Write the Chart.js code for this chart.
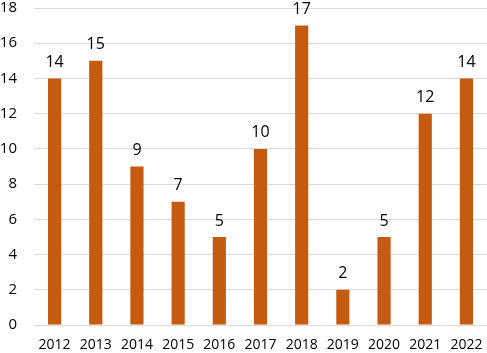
<!DOCTYPE html>
<html>
<head>
<meta charset="utf-8">
<script src="https://cdn.jsdelivr.net/npm/chart.js@4/dist/chart.umd.min.js"></script>
<style>
    html, body { margin: 0; padding: 0; background: #fff; }
    #wrap { width: 487px; height: 353px; position: relative; }
</style>
</head>
<body>
<div id="wrap"><canvas id="chart"></canvas></div>
<script>
const years = ['2012', '2013', '2014', '2015', '2016', '2017', '2018', '2019', '2020', '2021', '2022'];
const counts = [14, 15, 9, 7, 5, 10, 17, 2, 5, 12, 14];
const yTicks = [0, 2, 4, 6, 8, 10, 12, 14, 16, 18];

const fontFamily = "'Open Sans', 'Liberation Sans', sans-serif";

// draw the value above each bar
const valueLabels = {
    id: 'valueLabels',
    afterDatasetsDraw(chart) {
        const ctx = chart.ctx;
        const meta = chart.getDatasetMeta(0);
        ctx.save();
        ctx.fillStyle = '#000';
        ctx.font = '16px ' + fontFamily;
        ctx.textAlign = 'center';
        ctx.textBaseline = 'bottom';
        meta.data.forEach((bar, i) => {
            ctx.fillText(String(counts[i]), bar.x, bar.y - 8);
        });
        ctx.restore();
    }
};

new Chart(document.getElementById('chart').getContext('2d'), {
    type: 'bar',
    data: {
        labels: years,
        datasets: [{
            data: counts,
            backgroundColor: '#C55A11',
            borderWidth: 0,
            categoryPercentage: 1,
            barPercentage: 0.32
        }]
    },
    options: {
        responsive: true,
        maintainAspectRatio: false,
        animation: false,
        layout: { padding: { top: 8, right: 0, left: 0, bottom: 0 } },
        plugins: {
            legend: { display: false },
            tooltip: { enabled: false }
        },
        scales: {
            x: {
                grid: { display: false },
                border: { display: false },
                ticks: {
                    color: '#000',
                    font: { family: fontFamily, size: 14 },
                    maxRotation: 0,
                    padding: 4
                },
                afterFit(axis) { axis.height = 28; }
            },
            y: {
                min: 0,
                max: 18,
                afterBuildTicks(axis) { axis.ticks = yTicks.map(v => ({ value: v })); },
                grid: { color: '#d9d9d9', lineWidth: 1, drawTicks: false },
                border: { display: false },
                ticks: {
                    color: '#000',
                    font: { family: fontFamily, size: 15 },
                    padding: 17
                },
                afterFit(axis) {
                    axis.width = 34;
                    axis.paddingTop = 0;
                    axis.paddingBottom = 0;
                }
            }
        }
    },
    plugins: [valueLabels]
});
</script>
</body>
</html>
